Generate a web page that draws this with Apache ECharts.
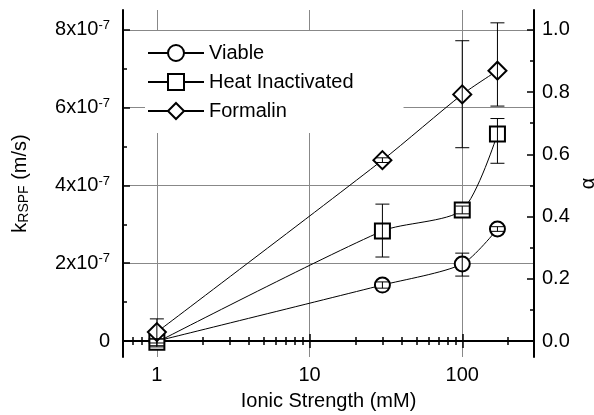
<!DOCTYPE html>
<html>
<head>
<meta charset="utf-8">
<script src="https://cdn.jsdelivr.net/npm/echarts@6/dist/echarts.min.js"></script>
<style>
html, body { margin: 0; padding: 0; background: #fff; }
#chart { width: 594px; height: 415px; }
</style>
</head>
<body>
<div id="chart"></div>
<script>
// ionic strength (mM)
const strength = [1, 30, 100, 170]
// k_RSPF values, in units of 1e-7 m/s
const viable = [0.0, 1.44, 1.98, 2.88]
const viableLow = [-0.05, 1.36, 1.67, 2.82]
const viableHigh = [0.05, 1.52, 2.26, 2.94]
const heat = [-0.03, 2.83, 3.37, 5.32]
const heatLow = [-0.15, 2.16, 3.27, 4.57]
const heatHigh = [0.06, 3.52, 3.47, 5.72]
const formalin = [0.23, 4.65, 6.34, 6.95]
const formalinLow = [-0.12, 4.59, 4.97, 6.04]
const formalinHigh = [0.57, 4.71, 7.72, 8.18]

const names = ['Viable', 'Heat Inactivated', 'Formalin']
const xMajor = [1, 10, 100]
const xMinor = [0.7, 0.8, 0.9, 2, 3, 4, 5, 6, 7, 8, 9, 20, 30, 40, 50, 60, 70, 80, 90, 200]
const kMajor = [0, 2, 4, 6, 8]
const kMinor = [1, 3, 5, 7]
const alphaMajor = [0, 0.2, 0.4, 0.6, 0.8, 1.0]
const alphaMinor = [0.1, 0.3, 0.5, 0.7, 0.9]

const font = "'Liberation Sans', Arial, Helvetica, sans-serif"
const kMin = -0.41
const kMax = 8.51

let chart = echarts.init(document.getElementById('chart'), null, { renderer: 'canvas' })

function pairs (vals) {
  return strength.map((x, i) => [x, vals[i]])
}

function lineSeries (name, vals, symbol, size) {
  return {
    name: name,
    type: 'line',
    data: pairs(vals),
    smooth: 0.25,
    symbol: symbol,
    symbolSize: size,
    z: 3,
    lineStyle: { color: '#000', width: 1 },
    itemStyle: { color: '#fff', borderColor: '#000', borderWidth: 2 }
  }
}

function errorSeries (low, high) {
  return {
    type: 'custom',
    silent: true,
    z: 5,
    data: strength.map((x, i) => [x, low[i], high[i]]),
    renderItem (params, api) {
      let top = api.coord([api.value(0), api.value(2)])
      let bot = api.coord([api.value(0), api.value(1)])
      let w = 7
      let style = { stroke: '#000', lineWidth: 1 }
      return {
        type: 'group',
        children: [
          { type: 'line', shape: { x1: top[0], y1: top[1], x2: bot[0], y2: bot[1] }, style: style },
          { type: 'line', shape: { x1: top[0] - w, y1: top[1], x2: top[0] + w, y2: top[1] }, style: style },
          { type: 'line', shape: { x1: bot[0] - w, y1: bot[1], x2: bot[0] + w, y2: bot[1] }, style: style }
        ]
      }
    }
  }
}

// minor tick axis helper (no line, no labels)
function minorX (position, values) {
  return {
    type: 'log', min: 0.6, max: 295, position: position,
    axisLine: { show: false },
    axisTick: { inside: true, length: 4, customValues: values, lineStyle: { color: '#000', width: 1.5 } },
    axisLabel: { show: false },
    splitLine: { show: false }
  }
}

let option = {
  animation: false,
  textStyle: { fontFamily: font },
  grid: { left: 123, right: 60, top: 10, bottom: 58, outerBoundsMode: 'none' },
  legend: {
    data: names,
    orient: 'vertical',
    left: 145,
    top: 31,
    itemWidth: 56,
    itemHeight: 20,
    itemGap: 9,
    padding: [12, 50, 12, 2],
    backgroundColor: '#fff',
    textStyle: { fontSize: 20, color: '#000', fontFamily: font }
  },
  xAxis: [
    {
      type: 'log', min: 0.6, max: 295, position: 'bottom',
      name: 'Ionic Strength (mM)',
      nameLocation: 'middle',
      nameGap: 34,
      nameTextStyle: { fontSize: 20, color: '#000' },
      axisLine: { lineStyle: { color: '#000', width: 2 } },
      axisTick: { inside: true, length: 7, customValues: xMajor, lineStyle: { color: '#000', width: 1.5 } },
      axisLabel: { customValues: xMajor, fontSize: 20, color: '#000', margin: 8 },
      splitLine: { show: true, lineStyle: { color: '#888', width: 1 } }
    },
    minorX('bottom', xMinor),
    {
      type: 'log', min: 0.6, max: 295, position: 'top',
      axisLine: { lineStyle: { color: '#000', width: 2 } },
      axisTick: { inside: true, length: 7, customValues: xMajor, lineStyle: { color: '#000', width: 1.5 } },
      axisLabel: { show: false },
      splitLine: { show: false }
    },
    minorX('top', xMinor)
  ],
  yAxis: [
    {
      type: 'value', min: kMin, max: kMax, position: 'left',
      name: '{k|k}{sub|RSPF}{k| (m/s)}',
      nameLocation: 'middle',
      nameGap: 92,
      nameTextStyle: {
        rich: {
          k: { fontSize: 20, color: '#000', fontFamily: font },
          sub: { fontSize: 14, color: '#000', fontFamily: font, padding: [8, 0, 0, 0] }
        }
      },
      axisLine: { show: true, lineStyle: { color: '#000', width: 2 } },
      axisTick: { show: true, inside: true, length: 7, customValues: kMajor, lineStyle: { color: '#000', width: 1.5 } },
      axisLabel: {
        customValues: kMajor,
        margin: 13,
        formatter: v => (Math.abs(v) < 1e-9 ? '{n|0}' : '{n|' + Math.round(v) + 'x10}{s|-7}'),
        rich: {
          n: { fontSize: 20, color: '#000', fontFamily: font },
          s: { fontSize: 13, color: '#000', fontFamily: font, padding: [0, 0, 9, 0] }
        }
      },
      splitLine: { show: true, lineStyle: { color: '#888', width: 1 } }
    },
    {
      type: 'value', min: kMin, max: kMax, position: 'left',
      axisLine: { show: false },
      axisTick: { show: true, inside: true, length: 4, customValues: kMinor, lineStyle: { color: '#000', width: 1.5 } },
      axisLabel: { show: false },
      splitLine: { show: false }
    },
    {
      type: 'value', min: kMin / 8, max: kMax / 8, position: 'right',
      name: 'α',
      nameLocation: 'middle',
      nameGap: 44,
      nameMoveOverlap: false,
      nameTextStyle: { fontSize: 20, color: '#000' },
      axisLine: { show: true, lineStyle: { color: '#000', width: 2 } },
      axisTick: { show: true, inside: true, length: 7, customValues: alphaMajor, lineStyle: { color: '#000', width: 1.5 } },
      axisLabel: {
        customValues: alphaMajor,
        margin: 8,
        fontSize: 20,
        color: '#000',
        formatter: v => v.toFixed(1)
      },
      splitLine: { show: false }
    },
    {
      type: 'value', min: kMin / 8, max: kMax / 8, position: 'right',
      axisLine: { show: false },
      axisTick: { show: true, inside: true, length: 4, customValues: alphaMinor, lineStyle: { color: '#000', width: 1.5 } },
      axisLabel: { show: false },
      splitLine: { show: false }
    }
  ],
  series: [
    lineSeries(names[0], viable, 'circle', 15),
    lineSeries(names[1], heat, 'rect', 15),
    lineSeries(names[2], formalin, 'diamond', 18),
    errorSeries(viableLow, viableHigh),
    errorSeries(heatLow, heatHigh),
    errorSeries(formalinLow, formalinHigh)
  ]
}

chart.setOption(option)
</script>
</body>
</html>
